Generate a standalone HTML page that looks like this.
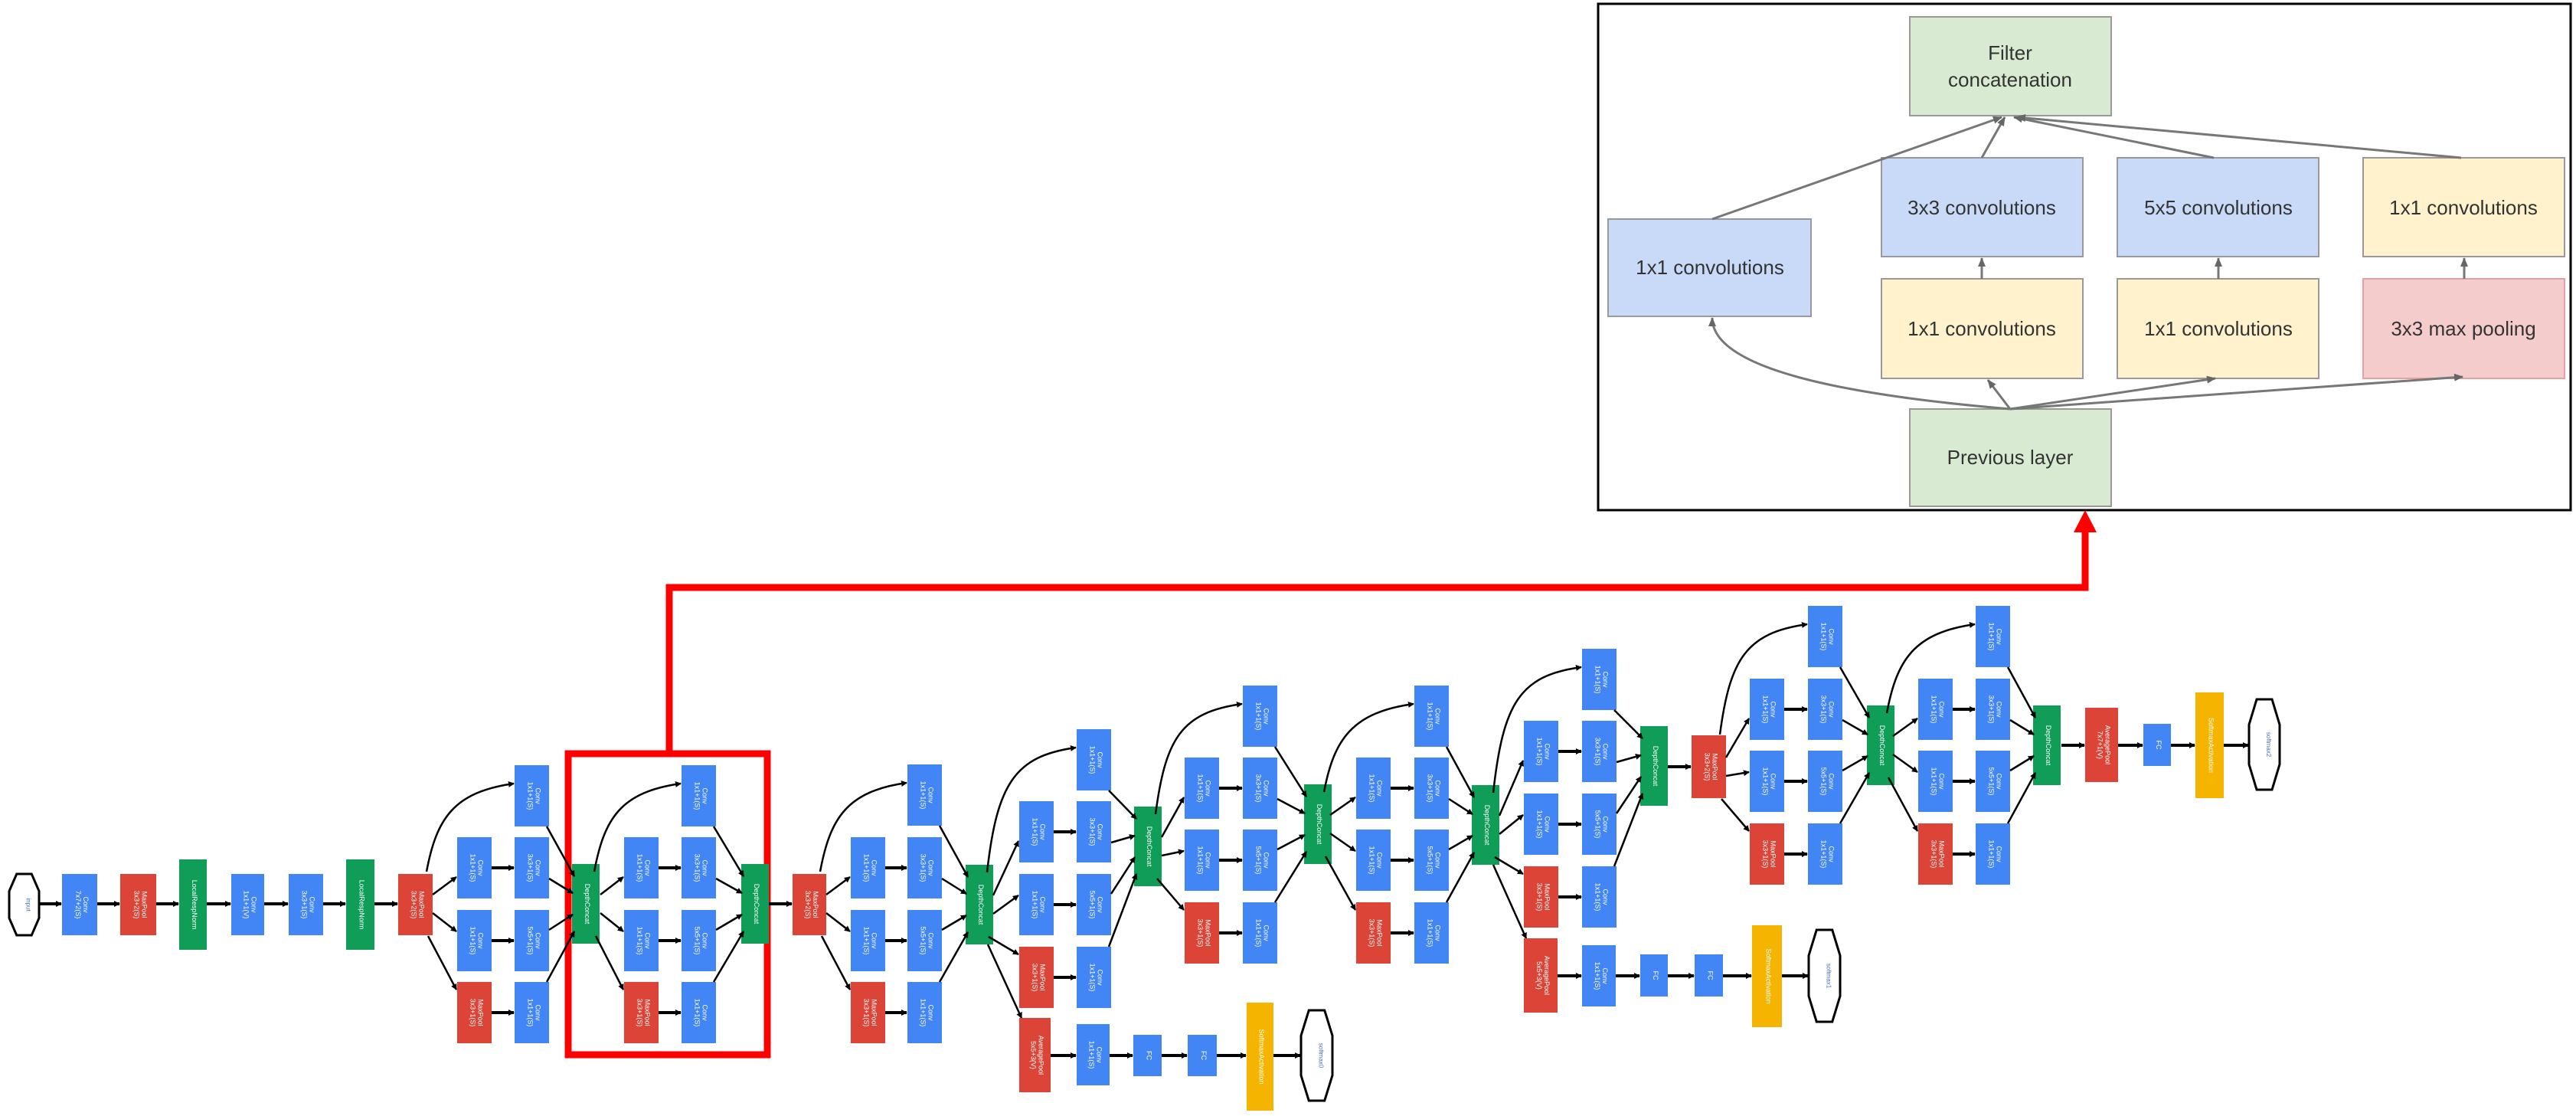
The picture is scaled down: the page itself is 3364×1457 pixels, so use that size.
<!DOCTYPE html>
<html><head><meta charset="utf-8"><style>
html,body{margin:0;padding:0;background:#fff;}
svg{display:block;}
.t{font-family:"Liberation Sans",sans-serif;fill:#fff;font-size:9px;}
.it{font-family:"Liberation Sans",sans-serif;fill:#333;font-size:26px;text-anchor:middle;}
</style></head><body>
<svg id="s" width="3364" height="1457" viewBox="0 0 3364 1457" xmlns="http://www.w3.org/2000/svg">
<defs>
<marker id="a" markerWidth="8" markerHeight="8" refX="7" refY="4" orient="auto" markerUnits="userSpaceOnUse"><path d="M0,0 L8,4 L0,8 z" fill="#000"/></marker>
<marker id="g" markerWidth="12" markerHeight="12" refX="11" refY="6" orient="auto" markerUnits="userSpaceOnUse"><path d="M0,1 L12,6 L0,11 z" fill="#666"/></marker>
</defs>
<!-- inset -->
<rect x="2087" y="5" width="1270" height="661" fill="#fff" stroke="#000" stroke-width="3"/>
<g stroke="#999" stroke-width="2">
<rect x="2494" y="22" width="263" height="129" fill="#d9ead3"/>
<rect x="2100" y="286" width="265" height="127" fill="#c9daf8"/>
<rect x="2457" y="206" width="263" height="129" fill="#c9daf8"/>
<rect x="2765" y="206" width="263" height="129" fill="#c9daf8"/>
<rect x="3086" y="206" width="263" height="129" fill="#fff2cc"/>
<rect x="2457" y="364" width="263" height="130" fill="#fff2cc"/>
<rect x="2765" y="364" width="263" height="130" fill="#fff2cc"/>
<rect x="3086" y="364" width="263" height="130" fill="#f4cccc" stroke="#e6a0a0"/>
<rect x="2494" y="534" width="263" height="127" fill="#d9ead3"/>
</g>
<g fill="none" stroke="#777" stroke-width="3" marker-end="url(#g)">
<path d="M2236,286 L2614,153"/>
<path d="M2588,206 L2618,153"/>
<path d="M2891,206 L2630,153"/>
<path d="M3214,206 L2634,153"/>
<path d="M2588,364 L2588,337"/>
<path d="M2897,364 L2897,337"/>
<path d="M3218,364 L3218,337"/>
<path d="M2625,534 C2400,515 2236,480 2236,415"/>
<path d="M2625,534 L2596,496"/>
<path d="M2625,534 L2893,494"/>
<path d="M2625,534 L3216,492"/>
</g>
<text class="it" x="2625" y="78">Filter</text>
<text class="it" x="2625" y="113">concatenation</text>
<text class="it" x="2233" y="358">1x1 convolutions</text>
<text class="it" x="2588" y="280">3x3 convolutions</text>
<text class="it" x="2897" y="280">5x5 convolutions</text>
<text class="it" x="3217" y="280">1x1 convolutions</text>
<text class="it" x="2588" y="438">1x1 convolutions</text>
<text class="it" x="2897" y="438">1x1 convolutions</text>
<text class="it" x="3217" y="438">3x3 max pooling</text>
<text class="it" x="2625" y="606">Previous layer</text>
<!-- red highlight -->
<rect x="742" y="984" width="260" height="393" fill="none" stroke="#f00" stroke-width="9"/>
<polyline points="874,984 874,767 2723,767 2723,692" fill="none" stroke="#f00" stroke-width="9"/>
<polygon points="2723,666 2708,695 2738,695" fill="#f00"/>
<g id="net"></g>
</svg>
<script>
var NS="http://www.w3.org/2000/svg",net=document.getElementById('net');
var C={b:"#4285f4",r:"#db4437",g:"#0f9d58",y:"#f4b400"};
function el(n,a,p){var e=document.createElementNS(NS,n);for(var k in a)e.setAttribute(k,a[k]);(p||net).appendChild(e);return e;}
function blk(x1,y1,x2,y2,c,l1,l2){el('rect',{x:x1,y:y1,width:x2-x1,height:y2-y1,fill:C[c]});
 var cx=(x1+x2)/2,cy=(y1+y2)/2;
 var t=el('text',{class:'t',x:0,y:0,transform:'translate('+(cx+2)+','+cy+') rotate(90)','text-anchor':'middle'});
 if(l2){var a=el('tspan',{x:0,dy:-3},t);a.textContent=l1;var b=el('tspan',{x:0,dy:10},t);b.textContent=l2;}else{t.textContent=l1;t.setAttribute('dy',3);}}
function hex(x1,y1,x2,y2,l){var w=x2-x1,h=y2-y1;
 el('polygon',{points:[x1+w*.25,y1,x2-w*.25,y1,x2,y1+h*.28,x2,y2-h*.28,x2-w*.25,y2,x1+w*.25,y2,x1,y2-h*.28,x1,y1+h*.28].join(' '),fill:'#fff',stroke:'#000','stroke-width':3});
 var t=el('text',{class:'t',x:0,y:0,transform:'translate('+((x1+x2)/2+3)+','+((y1+y2)/2)+') rotate(90)','text-anchor':'middle',style:'fill:#4a6fd0;font-size:8px'});t.textContent=l;}
function ln(d,w){el('path',{d:d,fill:'none',stroke:'#000','stroke-width':w||2.5,'marker-end':'url(#a)'});}
function ar(x1,x2,y){ln('M'+x1+','+y+' L'+(x2-1)+','+y,4);}
// stem
var y=1180;
hex(12,1141,51,1221,'input');
blk(81,1141,127,1221,'b','Conv','7x7+2(S)');
blk(157,1141,204,1221,'r','MaxPool','3x3+2(S)');
blk(234,1122,270,1240,'g','LocalRespNorm');
blk(302,1141,345,1221,'b','Conv','1x1+1(V)');
blk(377,1141,422,1221,'b','Conv','3x3+1(S)');
blk(452,1122,489,1240,'g','LocalRespNorm');
blk(520,1141,565,1221,'r','MaxPool','3x3+2(S)');
ar(51,81,y);ar(127,157,y);ar(204,234,y);ar(270,302,y);ar(345,377,y);ar(422,452,y);ar(489,520,y);
function inc(px,py,c1,c2,cx,R,cy){
 var w=45,h=40;
 blk(c2,R[0]-h,c2+w,R[0]+h,'b','Conv','1x1+1(S)');
 blk(c1,R[1]-h,c1+w,R[1]+h,'b','Conv','1x1+1(S)');blk(c2,R[1]-h,c2+w,R[1]+h,'b','Conv','3x3+1(S)');
 blk(c1,R[2]-h,c1+w,R[2]+h,'b','Conv','1x1+1(S)');blk(c2,R[2]-h,c2+w,R[2]+h,'b','Conv','5x5+1(S)');
 blk(c1,R[3]-h,c1+w,R[3]+h,'r','MaxPool','3x3+1(S)');blk(c2,R[3]-h,c2+w,R[3]+h,'b','Conv','1x1+1(S)');
 blk(cx,cy-52,cx+36,cy+52,'g','DepthConcat');
 ln('M'+(px-8)+','+(py-42)+' C'+(px+5)+','+(R[0]+30)+' '+(c1-5)+','+(R[0]-5)+' '+(c2-1)+','+(R[0]-16));
 ln('M'+px+','+(py-12)+' L'+(c1-1)+','+(R[1]+12));
 ln('M'+px+','+(py+12)+' L'+(c1-1)+','+(R[2]-12));
 ln('M'+(px-6)+','+(py+42)+' L'+(c1-1)+','+(R[3]-30));
 for(var i=1;i<4;i++)ar(c1+w,c2,R[i]);
 ln('M'+(c2+w-3)+','+(R[0]+h)+' L'+(cx+3)+','+(cy-36));
 ln('M'+(c2+w)+','+(R[1]+14)+' L'+(cx+1)+','+(cy-14));
 ln('M'+(c2+w)+','+(R[2]-14)+' L'+(cx+1)+','+(cy+14));
 ln('M'+(c2+w-3)+','+(R[3]-h)+' L'+(cx+3)+','+(cy+36));
}
var R3=[1039,1133,1228,1322];
inc(565,1180,597,672,747,R3,1180);
inc(784,1180,815,890,968,R3,1180);
blk(1035,1141,1079,1221,'r','MaxPool','3x3+2(S)');ar(1004,1035,1180);
inc(1079,1180,1111,1185,1261,[1038,1133,1228,1322],1181);
inc(1297,1181,1331,1406,1481,[992,1086,1181,1276],1105);
inc(1517,1105,1547,1623,1703,[935,1029,1123,1218],1076);
inc(1737,1076,1771,1847,1922,[935,1029,1123,1218],1077);
inc(1958,1077,1990,2066,2142,[887,981,1076,1171],1000);
blk(2209,960,2254,1042,'r','MaxPool','3x3+2(S)');ar(2178,2209,1001);
inc(2254,1001,2285,2361,2438,[831,926,1020,1115],973);
inc(2472,973,2505,2580,2655,[831,926,1020,1115],973);
// final
blk(2723,924,2766,1021,'r','AveragePool','7x7+1(V)');
blk(2799,945,2835,1000,'b','FC');
blk(2867,904,2904,1042,'y','SoftmaxActivation');
hex(2937,913,2977,1031,'softmax2');
ar(2692,2723,973);ar(2766,2799,973);ar(2835,2867,973);ar(2904,2937,973);
// aux1
ln('M1290,1233 L1334,1329');
blk(1331,1329,1372,1426,'r','AveragePool','5x5+3(V)');
blk(1406,1337,1449,1417,'b','Conv','1x1+1(S)');
blk(1480,1351,1517,1405,'b','FC');
blk(1551,1351,1589,1405,'b','FC');
blk(1628,1309,1663,1450,'y','SoftmaxActivation');
hex(1699,1319,1740,1437,'softmax0');
ar(1372,1406,1378);ar(1449,1480,1378);ar(1517,1551,1378);ar(1589,1628,1378);ar(1663,1699,1378);
// aux2
ln('M1950,1129 L1993,1225');
blk(1990,1225,2034,1322,'r','AveragePool','5x5+3(V)');
blk(2066,1234,2110,1314,'b','Conv','1x1+1(S)');
blk(2142,1246,2178,1301,'b','FC');
blk(2213,1246,2250,1301,'b','FC');
blk(2288,1208,2327,1341,'y','SoftmaxActivation');
hex(2362,1214,2403,1334,'softmax1');
ar(2034,2066,1274);ar(2110,2142,1274);ar(2178,2213,1274);ar(2250,2288,1274);ar(2327,2362,1274);
</script>
</body></html>
